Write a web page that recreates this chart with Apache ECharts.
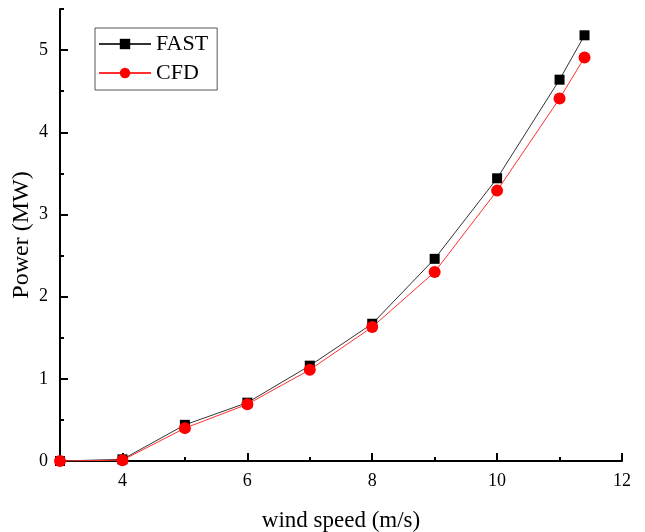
<!DOCTYPE html>
<html>
<head>
<meta charset="utf-8">
<script src="https://cdn.jsdelivr.net/npm/echarts@6/dist/echarts.min.js"></script>
<style>
html, body { margin: 0; padding: 0; background: #fff; }
#chart { width: 645px; height: 532px; }
</style>
</head>
<body>
<div id="chart"></div>
<script>
const windSpeed = [3, 4, 5, 6, 7, 8, 9, 10, 11, 11.4];
const fastPower = [0, 0.02, 0.44, 0.71, 1.16, 1.67, 2.46, 3.44, 4.64, 5.18];
const cfdPower = [0, 0.01, 0.40, 0.69, 1.11, 1.63, 2.30, 3.29, 4.41, 4.91];
const xMajor = [4, 6, 8, 10, 12];
const xMinor = [5, 7, 9, 11];
const yMajor = [0, 1, 2, 3, 4, 5];
const yMinor = [0.5, 1.5, 2.5, 3.5, 4.5, 5.5];

const font = 'Liberation Serif';
const tickStyle = { width: 2, color: '#000' };

var chart = echarts.init(document.getElementById('chart'));
chart.setOption({
    animation: false,
    textStyle: { fontFamily: font },
    grid: { left: 60, right: 23, top: 9, bottom: 71, outerBoundsMode: 'none', containLabel: false },
    legend: {
        orient: 'vertical',
        left: 95,
        top: 28,
        padding: [5, 9, 6, 3],
        itemGap: 7,
        itemWidth: 52,
        itemHeight: 13,
        borderColor: '#555',
        borderWidth: 1,
        textStyle: { fontFamily: font, fontSize: 22, color: '#000' },
        data: ['FAST', 'CFD']
    },
    xAxis: [{
        type: 'value',
        min: 3,
        max: 12,
        name: 'wind speed (m/s)',
        nameLocation: 'middle',
        nameGap: 48,
        nameTextStyle: { fontFamily: font, fontSize: 23, color: '#000' },
        axisLine: { show: true, onZero: false, lineStyle: { color: '#000', width: 2 } },
        axisTick: { show: true, inside: true, length: 8, customValues: xMajor, lineStyle: tickStyle },
        axisLabel: { show: true, customValues: xMajor, margin: 11, fontFamily: font, fontSize: 18, color: '#000' },
        splitLine: { show: false }
    }, {
        // minor ticks only
        type: 'value',
        min: 3,
        max: 12,
        position: 'bottom',
        axisLine: { show: false, onZero: false },
        axisTick: { show: true, inside: true, length: 4, customValues: xMinor, lineStyle: tickStyle },
        axisLabel: { show: false },
        splitLine: { show: false }
    }],
    yAxis: [{
        type: 'value',
        min: 0,
        max: 5.5,
        name: 'Power (MW)',
        nameLocation: 'middle',
        nameGap: 26,
        nameMoveOverlap: false,
        nameTextStyle: { fontFamily: font, fontSize: 24, color: '#000' },
        axisLine: { show: true, onZero: false, lineStyle: { color: '#000', width: 2 } },
        axisTick: { show: true, inside: true, length: 8, customValues: yMajor, lineStyle: tickStyle },
        axisLabel: { show: true, customValues: yMajor, margin: 12, fontFamily: font, fontSize: 18, color: '#000' },
        splitLine: { show: false }
    }, {
        type: 'value',
        min: 0,
        max: 5.5,
        position: 'left',
        offset: 0,
        axisLine: { show: false, onZero: false },
        axisTick: { show: true, inside: true, length: 4, customValues: yMinor, lineStyle: tickStyle },
        axisLabel: { show: false },
        splitLine: { show: false }
    }],
    series: [{
        name: 'FAST',
        type: 'line',
        symbol: 'rect',
        symbolSize: 10,
        itemStyle: { color: '#000' },
        lineStyle: { color: '#333', width: 1 },
        data: windSpeed.map((x, i) => [x, fastPower[i]])
    }, {
        name: 'CFD',
        type: 'line',
        symbol: 'circle',
        symbolSize: 12,
        itemStyle: { color: '#ff0000' },
        lineStyle: { color: '#ff3030', width: 1 },
        data: windSpeed.map((x, i) => [x, cfdPower[i]])
    }]
});
</script>
</body>
</html>
